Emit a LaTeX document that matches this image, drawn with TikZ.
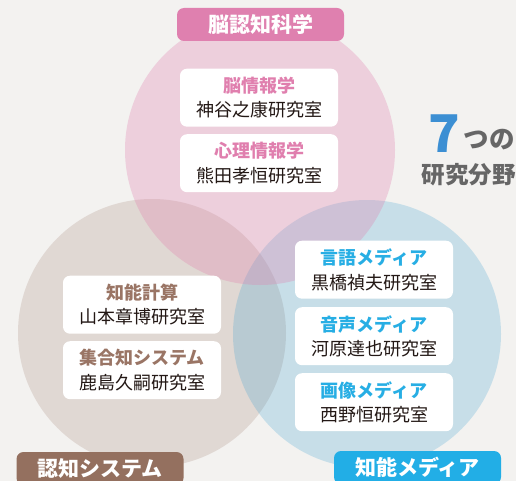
\documentclass[tikz,border=0pt]{standalone}
\usepackage{fontspec}
\setmainfont{Noto Sans CJK JP}
\definecolor{bgc}{HTML}{F3F2F0}
\definecolor{pinkC}{HTML}{E07FAE}
\definecolor{brownC}{HTML}{957060}
\definecolor{blueC}{HTML}{2E9BD0}
\definecolor{pinkL}{HTML}{DF80AF}
\definecolor{brownL}{HTML}{94705F}
\definecolor{blueL}{HTML}{22AEE6}
\definecolor{pinkT}{HTML}{E07FAE}
\definecolor{brownT}{HTML}{9A7565}
\definecolor{blueT}{HTML}{27AEE4}
\definecolor{nameT}{HTML}{231815}
\definecolor{grayT}{HTML}{666666}
\definecolor{sevenC}{HTML}{3C8FD3}
\tikzset{
  catlabel/.style={rounded corners=7pt, minimum width=167pt, minimum height=33pt, inner sep=0pt,
    text=white, font=\fontsize{21}{21}\selectfont\bfseries},
  labbox/.style={fill=white, rounded corners=7pt, minimum width=158pt, minimum height=58pt,
    inner sep=0pt, align=center, text=nameT, font=\fontsize{18}{24.5}\selectfont}
}
\begin{document}
\begin{tikzpicture}[x=1pt,y=-1pt]
\useasboundingbox (0,0) rectangle (516,481);
\clip (0,0) rectangle (516,481);
\fill[bgc] (0,0) rectangle (516,481);
% circles
\fill[brownC, fill opacity=0.2] (152,333) circle[radius=134];
\fill[blueC, fill opacity=0.22] (367,334) circle[radius=134];
\fill[pinkC, fill opacity=0.3] (260,150) circle[radius=135];
% category labels
\node[catlabel, fill=pinkL] (catBrain) at (260.5,24.5) {脳認知科学};
\node[catlabel, fill=brownL] (catCog) at (100,468.5) {認知システム};
\node[catlabel, fill=blueL] (catMedia) at (417.5,467.5) {知能メディア};
% lab boxes
\node[labbox] (lab1) at (259,97.7) {\textcolor{pinkT}{\bfseries 脳情報学}\\神谷之康研究室};
\node[labbox] (lab2) at (259,163.2) {\textcolor{pinkT}{\bfseries 心理情報学}\\熊田孝恒研究室};
\node[labbox] (lab3) at (142,304.7) {\textcolor{brownT}{\bfseries 知能計算}\\山本章博研究室};
\node[labbox] (lab4) at (142,370.2) {\textcolor{brownT}{\bfseries 集合知システム}\\鹿島久嗣研究室};
\node[labbox] (lab5) at (374,269.7) {\textcolor{blueT}{\bfseries 言語メディア}\\黒橋禎夫研究室};
\node[labbox] (lab6) at (374,336.2) {\textcolor{blueT}{\bfseries 音声メディア}\\河原達也研究室};
\node[labbox] (lab7) at (374,402.2) {\textcolor{blueT}{\bfseries 画像メディア}\\西野恒研究室};
% 7 fields
\node[anchor=base west, inner sep=0pt, text=sevenC, font=\fontsize{52}{52}\selectfont\bfseries] (seven) at (428,153) {7};
\node[anchor=base west, inner sep=0pt, text=grayT, font=\fontsize{25.5}{25.5}\selectfont\bfseries] (tsuno) at (463.5,149) {つの};
\node[anchor=base west, inner sep=0pt, text=grayT, font=\fontsize{23.5}{23.5}\selectfont\bfseries] (fields) at (421.5,183) {研究分野};
\end{tikzpicture}
\end{document}
